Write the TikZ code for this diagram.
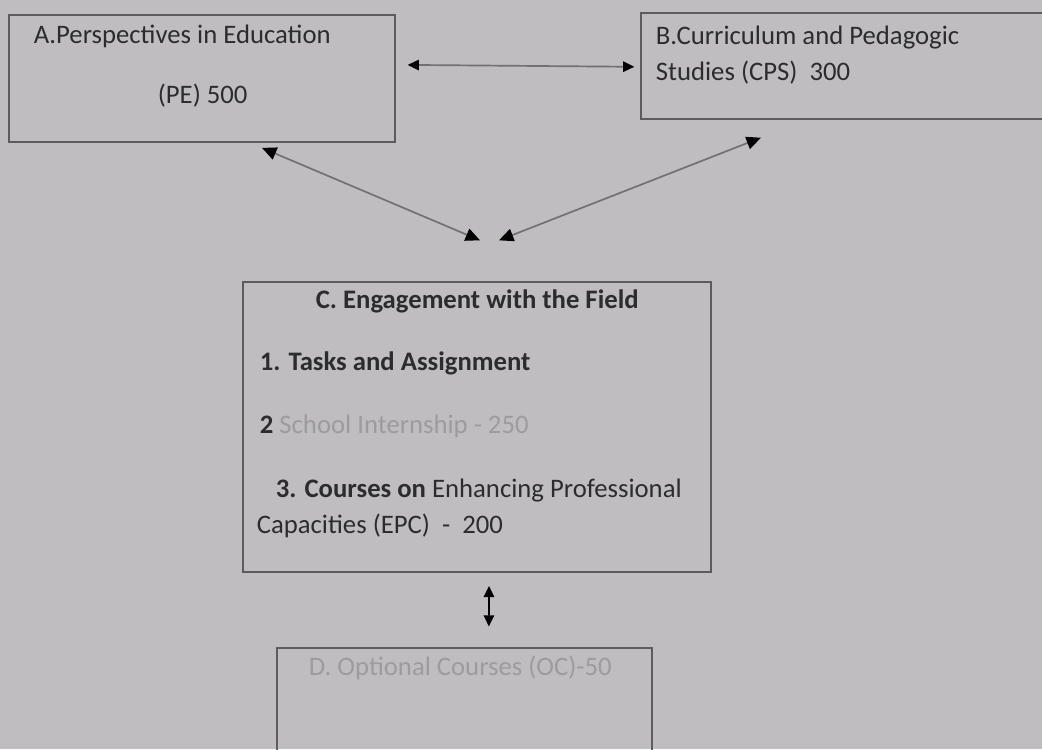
\documentclass[tikz,border=0pt]{standalone}
\usepackage{fontspec}
\setmainfont{Carlito}
\usetikzlibrary{arrows.meta}

\definecolor{paper}{RGB}{191,189,191}
\definecolor{ink}{RGB}{44,44,48}
\definecolor{frame}{RGB}{92,92,96}
\definecolor{wire}{RGB}{112,112,118}
\definecolor{fade}{RGB}{156,155,158}

\begin{document}
\begin{tikzpicture}[line width=1.2pt,
                    dhead/.style={arrows={Triangle[length=3.6mm,width=3.2mm,fill=black,color=black]-Triangle[length=3.6mm,width=3.2mm,fill=black,color=black]}},
                    shead/.style={arrows={Triangle[length=2.8mm,width=2.6mm,fill=black,color=black]-Triangle[length=2.8mm,width=2.6mm,fill=black,color=black]}},
                    box/.style={rectangle,draw=frame,line width=1pt,inner sep=0pt},
                    txt/.style={anchor=base west,inner sep=0pt,text=ink,
                                font=\fontsize{19}{23}\selectfont}]

  \useasboundingbox (0,0) rectangle (26.05,-18.725);
  \fill[paper] (0,0) rectangle (26.05,-18.725);
  \clip (0,0) rectangle (26.05,-18.725);

  \node[box,minimum width=9.65cm,minimum height=3.175cm] (pe) at (5.05,-1.9625) {};
  \node[box,minimum width=10.475cm,minimum height=2.65cm] (cps) at (21.2625,-1.65) {};
  \node[box,minimum width=11.7cm,minimum height=7.25cm] (ef) at (11.925,-10.675) {};
  \node[box,minimum width=9.375cm,minimum height=3.05cm] (oc) at (11.6125,-17.725) {};

  \node[txt] (pe1) at (0.825,-1.075) {A.Perspectives in Education};
  \node[txt] (pe2) at (3.925,-2.575) {(PE) 500};
  \node[txt] (cps1) at (16.375,-1.1) {B.Curriculum and Pedagogic};
  \node[txt] (cps2) at (16.375,-2.0) {Studies (CPS) \ 300};
  \node[txt,font=\fontsize{19}{23}\selectfont\bfseries] (ef0) at (7.875,-7.7) {C. Engagement with the Field};
  \node[txt,font=\fontsize{19}{23}\selectfont\bfseries] (ef1) at (6.475,-9.25) {1. Tasks and Assignment};
  \node[txt] (ef2) at (6.475,-10.825) {\bfseries 2 \mdseries\textcolor{fade}{School Internship - 250}};
  \node[txt] (ef3) at (6.875,-12.425) {\bfseries 3. Courses on \mdseries Enhancing Professional};
  \node[txt] (ef4) at (6.4,-13.325) {Capacities (EPC) \ - \ 200};
  \node[txt,text=fade] (oc0) at (7.7,-16.875) {D. Optional Courses (OC)-50};

  \path
    ([shift={(0.3,0.34)}]pe.east) edge[draw=wire,shead] ([shift={(-0.15,-0.02)}]cps.west)
    ([shift={(1.5,-0.13)}]pe.south) edge[draw=wire,dhead] ([shift={(0.075,1.025)}]ef.north)
    ([shift={(-2.24,-0.45)}]cps.south) edge[draw=wire,dhead] ([shift={(0.55,1.025)}]ef.north)
    ([shift={(0.3,-0.33)}]ef.south) edge[draw=black,shead] ([shift={(0.61,0.52)}]oc.north);

\end{tikzpicture}
\end{document}
